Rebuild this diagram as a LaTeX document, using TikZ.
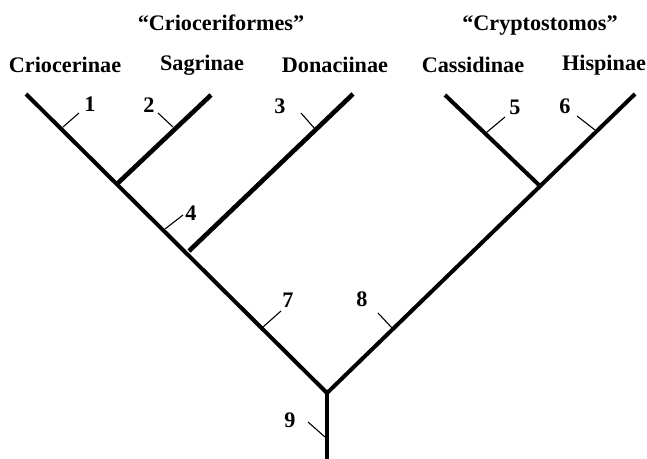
\documentclass[tikz,border=0pt]{standalone}
\usepackage{fontspec}
\setmainfont{Liberation Serif}
\begin{document}
\begin{tikzpicture}[x=1pt,y=-1pt,
  branch/.style={line width=4pt,line cap=butt,line join=miter},
  heavy/.style={line width=4.6pt,line cap=butt},
  tick/.style={line width=1.1pt},
  taxon/.style={font=\bfseries\fontsize{22.2}{26}\selectfont,anchor=base,inner sep=0pt},
  clade/.style={font=\bfseries\fontsize{22.2}{26}\selectfont,anchor=base,inner sep=0pt},
  num/.style={font=\bfseries\fontsize{22.2}{26}\selectfont,inner sep=0pt}]
\useasboundingbox (0,0) rectangle (647,458);

% tree nodes
\coordinate (root) at (327,393);
\coordinate (base) at (327,460);
\coordinate (crio) at (26,94);
\coordinate (sagr) at (211,95);
\coordinate (dona) at (353,94);
\coordinate (cass) at (445,95);
\coordinate (hisp) at (635,94);
\coordinate (jsagr) at (118,183);
\coordinate (jdona) at (189,251);
\coordinate (jcass) at (540,186);

% branches
\draw[branch] (crio) -- (root) -- (hisp);
\draw[heavy] (jsagr) -- (sagr);
\draw[heavy] (jdona) -- (dona);
\draw[branch] (jcass) -- (cass);
\draw[heavy] (root) -- (base);

% character ticks
\coordinate (t1a) at (63,127);  \coordinate (t1b) at (79,113);
\coordinate (t2a) at (173,127); \coordinate (t2b) at (158,113);
\coordinate (t3a) at (315,129); \coordinate (t3b) at (301,113);
\coordinate (t4a) at (165,229); \coordinate (t4b) at (183,215);
\coordinate (t5a) at (487,132); \coordinate (t5b) at (505,117);
\coordinate (t6a) at (595,130); \coordinate (t6b) at (577,116);
\coordinate (t7a) at (263,327); \coordinate (t7b) at (281,311);
\coordinate (t8a) at (393,329); \coordinate (t8b) at (378,313);
\coordinate (t9a) at (325,437); \coordinate (t9b) at (308,422);
\foreach \i in {1,...,9} \draw[tick] (t\i a) -- (t\i b);

\node[num] (n1) at (90,104) {1};
\node[num] (n2) at (149,105) {2};
\node[num] (n3) at (280,106) {3};
\node[num] (n4) at (191,213) {4};
\node[num] (n5) at (515,107) {5};
\node[num] (n6) at (565,106) {6};
\node[num] (n7) at (288,300) {7};
\node[num] (n8) at (362,299) {8};
\node[num] (n9) at (290,420) {9};

% taxon names
\node[taxon] (lcrio) at (65,72) {Criocerinae};
\node[taxon] (lsagr) at (202,70) {Sagrinae};
\node[taxon] (ldona) at (335,72) {Donaciinae};
\node[taxon] (lcass) at (473,72) {Cassidinae};
\node[taxon] (lhisp) at (604,70) {Hispinae};

% group names
\node[clade] (gcrio) at (221,30) {“Crioceriformes”};
\node[clade] (gcryp) at (540,30) {“Cryptostomos”};
\end{tikzpicture}
\end{document}
